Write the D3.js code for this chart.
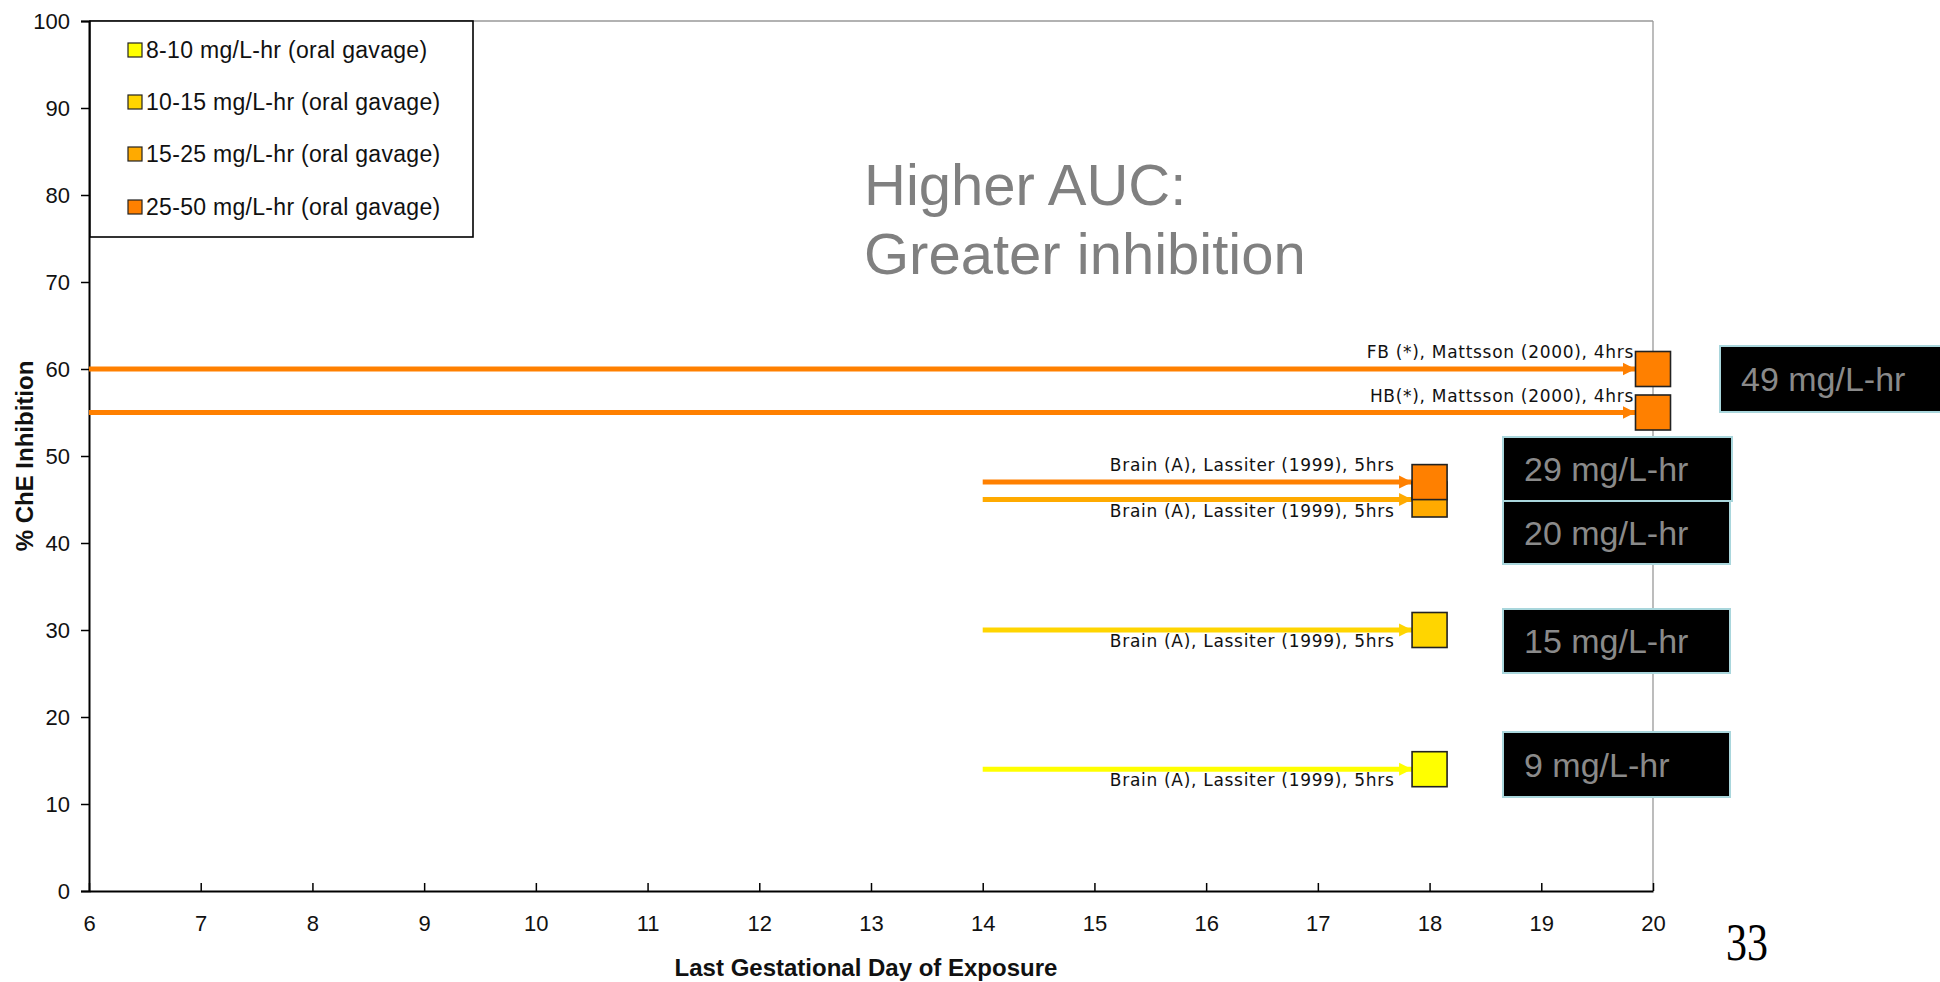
<!DOCTYPE html>
<html>
<head>
<meta charset="utf-8">
<script src="https://cdn.jsdelivr.net/npm/d3@7/dist/d3.min.js"></script>
<style>
  html, body { margin: 0; padding: 0; background: #fff; }
  svg { display: block; }
</style>
</head>
<body>
<svg id="chart" width="1940" height="982"></svg>
<script>
// ChE inhibition versus last gestational day of exposure, grouped by AUC band
const legendLabels = [
  "8-10 mg/L-hr (oral gavage)",
  "10-15 mg/L-hr (oral gavage)",
  "15-25 mg/L-hr (oral gavage)",
  "25-50 mg/L-hr (oral gavage)"
];
const legendColors = ["#FFFF00", "#FFD500", "#FFAA00", "#FF8000"];

const studyLabels = [
  "FB (*), Mattsson (2000), 4hrs",
  "HB(*), Mattsson (2000), 4hrs",
  "Brain (A), Lassiter (1999), 5hrs",
  "Brain (A), Lassiter (1999), 5hrs",
  "Brain (A), Lassiter (1999), 5hrs",
  "Brain (A), Lassiter (1999), 5hrs"
];
const startDay = [6, 6, 14, 14, 14, 14];
const endDay = [20, 20, 18, 18, 18, 18];
const inhibition = [60, 55, 47, 45, 30, 14];
const aucBand = [3, 3, 3, 2, 1, 0];
const labelAbove = [true, true, true, false, false, false];

const aucLabels = ["49 mg/L-hr", "29 mg/L-hr", "20 mg/L-hr", "15 mg/L-hr", "9 mg/L-hr"];

const xTicks = d3.range(6, 21);
const yTicks = d3.range(0, 101, 10);

const svg = d3.select("#chart");
const plotLeft = 89, plotRight = 1653, plotTop = 21, plotBottom = 891;

const x = d3.scaleLinear().domain([6, 20]).range([plotLeft, plotRight]);
const y = d3.scaleLinear().domain([0, 100]).range([plotBottom, plotTop]);

// plot frame: light top/right edges
svg.append("line").attr("x1", plotLeft).attr("x2", plotRight).attr("y1", plotTop).attr("y2", plotTop)
  .attr("stroke", "#999").attr("stroke-width", 1.3);
svg.append("line").attr("x1", plotRight).attr("x2", plotRight).attr("y1", plotTop).attr("y2", plotBottom)
  .attr("stroke", "#999").attr("stroke-width", 1.3);

// y axis
const yAxis = svg.append("g").attr("transform", `translate(${plotLeft},0)`)
  .call(d3.axisLeft(y).tickValues(yTicks).tickSize(8).tickPadding(11));
yAxis.select(".domain").attr("stroke", "#000").attr("stroke-width", 2);
yAxis.selectAll(".tick line").attr("stroke", "#000").attr("stroke-width", 1.5);
yAxis.selectAll(".tick text").attr("font-family", "Liberation Sans, Arial, sans-serif")
  .attr("font-size", 22).attr("fill", "#111");

// x axis with inward ticks
const xAxis = svg.append("g").attr("transform", `translate(0,${plotBottom})`)
  .call(d3.axisBottom(x).tickValues(xTicks).tickSizeInner(-8).tickSizeOuter(0).tickPadding(24));
xAxis.select(".domain").attr("stroke", "#000").attr("stroke-width", 2);
xAxis.selectAll(".tick line").attr("stroke", "#000").attr("stroke-width", 1.5);
xAxis.selectAll(".tick text").attr("font-family", "Liberation Sans, Arial, sans-serif")
  .attr("font-size", 22).attr("fill", "#111");

// axis titles
svg.append("text").attr("x", (plotLeft + plotRight) / 2 - 5).attr("y", 976)
  .attr("text-anchor", "middle").attr("font-family", "Liberation Sans, Arial, sans-serif")
  .attr("font-weight", "bold").attr("font-size", 24).attr("fill", "#111")
  .text("Last Gestational Day of Exposure");
svg.append("text").attr("transform", `translate(33,${(plotTop + plotBottom) / 2}) rotate(-90)`)
  .attr("text-anchor", "middle").attr("font-family", "Liberation Sans, Arial, sans-serif")
  .attr("font-weight", "bold").attr("font-size", 24).attr("fill", "#111")
  .text("% ChE Inhibition");

// arrowhead markers, one per band colour
const defs = svg.append("defs");
legendColors.forEach((c, i) => {
  defs.append("marker").attr("id", "arrow" + i)
    .attr("viewBox", "0 0 10 10").attr("refX", 10).attr("refY", 5)
    .attr("markerWidth", 2.6).attr("markerHeight", 2.8).attr("markerUnits", "strokeWidth")
    .attr("orient", "auto")
    .append("path").attr("d", "M0,0 L10,5 L0,10 Z").attr("fill", c);
});

const studies = studyLabels.map((label, i) => ({
  label, start: startDay[i], end: endDay[i], value: inhibition[i],
  band: aucBand[i], above: labelAbove[i]
}));

const sq = 35;

// exposure-window arrows
svg.append("g").selectAll("line").data(studies).join("line")
  .attr("x1", d => x(d.start))
  .attr("x2", d => x(d.end) - sq / 2)
  .attr("y1", d => y(d.value)).attr("y2", d => y(d.value))
  .attr("stroke", d => legendColors[d.band]).attr("stroke-width", 5)
  .attr("marker-end", d => `url(#arrow${d.band})`);

// study labels
svg.append("g").selectAll("text").data(studies).join("text")
  .attr("x", d => x(d.end) - (d.end === 20 ? 19 : 35))
  .attr("y", d => y(d.value) + (d.above ? -11 : 17))
  .attr("text-anchor", "end")
  .attr("font-family", "DejaVu Sans, Verdana, sans-serif")
  .attr("font-size", 17).attr("letter-spacing", 0.7).attr("fill", "#111")
  .text(d => d.label);

// end-day squares (drawn bottom-up so the higher value sits on top)
svg.append("g").selectAll("rect").data(studies.slice().reverse()).join("rect")
  .attr("x", d => x(d.end) - sq / 2)
  .attr("y", d => y(d.value) - sq / 2)
  .attr("width", sq).attr("height", sq)
  .attr("fill", d => legendColors[d.band])
  .attr("stroke", "#222").attr("stroke-width", 1.6);

// legend
const lg = svg.append("g");
lg.append("rect").attr("x", 90).attr("y", 21).attr("width", 383).attr("height", 216)
  .attr("fill", "#fff").attr("stroke", "#000").attr("stroke-width", 1.6);
const rows = [50, 102, 154, 207];
legendLabels.forEach((t, i) => {
  lg.append("rect").attr("x", 128).attr("y", rows[i] - 7).attr("width", 14).attr("height", 14)
    .attr("fill", legendColors[i]).attr("stroke", "#222").attr("stroke-width", 1.2);
  lg.append("text").attr("x", 146).attr("y", rows[i] + 8)
    .attr("font-family", "Liberation Sans, Arial, sans-serif").attr("font-size", 23)
    .attr("letter-spacing", 0.3).attr("fill", "#111").text(t);
});

// headline note
const note = svg.append("text").attr("font-family", "Liberation Sans, Arial, sans-serif")
  .attr("font-size", 58).attr("fill", "#808080");
note.append("tspan").attr("x", 864).attr("y", 205).text("Higher AUC:");
note.append("tspan").attr("x", 864).attr("y", 274).text("Greater inhibition");

// AUC value boxes
const boxes = [
  { x0: 1720, y0: 346, w: 224, h: 66 },
  { x0: 1503, y0: 437, w: 229, h: 64 },
  { x0: 1503, y0: 501, w: 227, h: 63 },
  { x0: 1503, y0: 609, w: 227, h: 64 },
  { x0: 1503, y0: 732, w: 227, h: 65 }
];
const bg = svg.append("g");
aucLabels.forEach((t, i) => {
  const b = boxes[i];
  bg.append("rect").attr("x", b.x0).attr("y", b.y0).attr("width", b.w).attr("height", b.h)
    .attr("fill", "#000").attr("stroke", "#a9d6dc").attr("stroke-width", 2);
  bg.append("text").attr("x", b.x0 + 21).attr("y", b.y0 + b.h / 2 + 12)
    .attr("font-family", "Liberation Sans, Arial, sans-serif").attr("font-size", 34)
    .attr("fill", "#8a8a8a").text(t);
});

// page number
svg.append("text").attr("x", 1726).attr("y", 960)
  .attr("font-family", "Liberation Serif, Times New Roman, serif").attr("font-size", 52)
  .attr("textLength", 42).attr("lengthAdjust", "spacingAndGlyphs")
  .attr("fill", "#000").text("33");
</script>
</body>
</html>
